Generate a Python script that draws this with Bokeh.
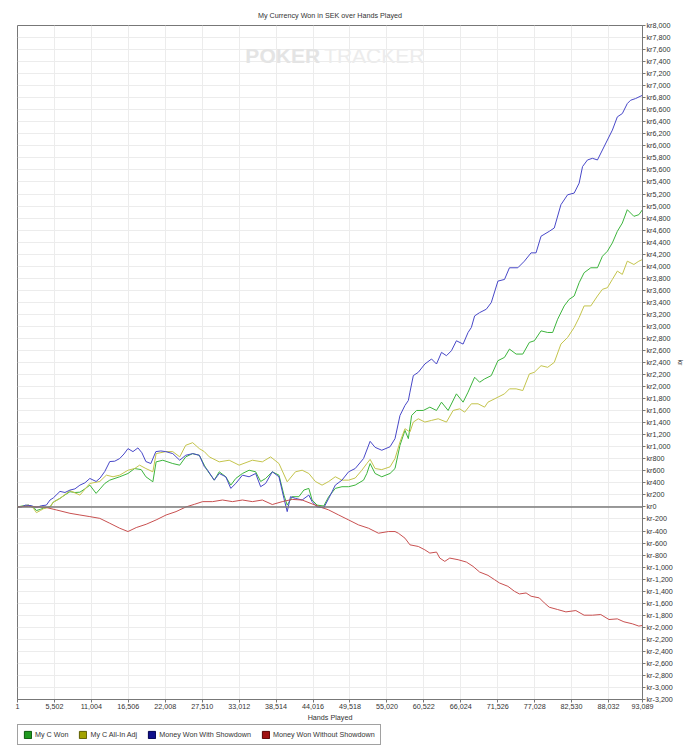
import math
from bokeh.plotting import figure
from bokeh.layouts import column
from bokeh.models import FixedTicker, Span, Label, Legend, LegendItem, Range1d
from bokeh.embed import file_html
from bokeh.resources import INLINE

# ---------------- data ----------------
series_names = ["My C Won", "My C All-In Adj", "Money Won With Showdown", "Money Won Without Showdown"]

hands_won = [1, 889, 1631, 2372, 2817, 3410, 3854, 4847, 5337, 6330, 7071, 7812, 8553, 9295, 10036, 10777,
             11711, 12304, 13001, 13742, 15224, 16455, 17448, 18426, 19123, 20161, 20650, 21643, 23125, 24163,
             25053, 26090, 27083, 27825, 28314, 29307, 30048, 31027, 31768, 32509, 33502, 34495, 35474, 36215,
             36956, 37949, 38943, 39684, 40173, 40914, 41908, 42649, 43390, 43879, 44620, 45613, 46355, 47333,
             48326, 49319, 50298, 51543, 52032, 52521, 53263, 54256, 55486, 56227, 56969, 57710, 58214, 58703,
             59444, 60437, 61416, 62409, 63150, 64143, 65374, 66367, 67108, 68087, 68828, 69569, 70562, 71556,
             72534, 73275, 74268, 75261, 76240, 76981, 77974, 78967, 79709, 80450, 81428, 82169, 82911, 83652,
             84393, 85386, 86379, 87121, 87862, 88603, 89344, 90085, 90826, 91805, 92546, 93089]
values_won = [0, 20, 30, 0, -60, -40, -20, 0, 80, 142, 200, 253, 240, 245, 300, 362,
              225, 300, 390, 445, 501, 556, 638, 620, 501, 418, 749, 776, 721, 694,
              832, 886, 858, 694, 600, 445, 584, 501, 362, 473, 556, 610, 584, 423,
              473, 584, 528, 197, 30, 170, 170, 280, 308, 115, 30, 15, 170, 308,
              336, 336, 363, 445, 556, 721, 556, 501, 556, 638, 1024, 1272, 1135, 1520,
              1603, 1603, 1658, 1603, 1741, 1603, 1879, 1741, 1907, 2155, 2072, 2127, 2182, 2430,
              2485, 2623, 2540, 2540, 2734, 2761, 2926, 2899, 2899, 3119, 3340, 3450, 3505, 3726,
              3892, 3974, 3974, 4166, 4249, 4388, 4580, 4718, 4939, 4829, 4856, 4940]

hands_adj = [1, 889, 1631, 2372, 2817, 3410, 3854, 4847, 5337, 6330, 7812, 9295, 10777, 12259, 13238, 14231,
             15224, 16455, 17448, 18189, 19123, 20161, 20650, 22088, 23125, 24163, 25053, 26090, 27083, 27825,
             28566, 30048, 31531, 33013, 34985, 36467, 37697, 38943, 40173, 41403, 42397, 43390, 44368, 45361,
             46355, 47333, 48326, 49319, 50298, 51291, 52032, 52521, 53263, 54256, 55486, 56227, 56969, 57710,
             58451, 58955, 59696, 60675, 61668, 62661, 63891, 64885, 65863, 66604, 67597, 68591, 69569, 70073,
             71556, 72534, 73275, 74268, 75261, 76240, 76981, 77974, 78967, 79946, 80939, 81932, 82911, 83652,
             84393, 85386, 86379, 87121, 87862, 88603, 89344, 90085, 90826, 91805, 92546, 93089]
values_adj = [0, 10, 30, -20, -95, -60, -30, 0, 80, 142, 270, 197, 390, 423, 528, 501,
              528, 610, 638, 694, 638, 584, 886, 919, 919, 832, 1024, 1068, 969, 919,
              832, 749, 776, 694, 776, 749, 832, 721, 418, 584, 610, 556, 423, 362,
              423, 501, 445, 445, 480, 610, 721, 790, 638, 620, 666, 804, 1079, 1300,
              1245, 1410, 1465, 1410, 1438, 1465, 1410, 1603, 1630, 1575, 1714, 1714, 1658, 1741,
              1824, 1879, 1962, 1962, 1934, 2210, 2237, 2347, 2320, 2402, 2706, 2816, 2982, 3147,
              3340, 3340, 3505, 3616, 3643, 3781, 3919, 3864, 4084, 4029, 4084, 4111]

hands_sd = [1, 593, 1186, 2075, 2817, 3558, 4299, 4847, 5337, 6330, 7071, 7812, 8553, 9295, 10036, 10777,
            11711, 12304, 13001, 13742, 14483, 15224, 15862, 16455, 17196, 17937, 18530, 19123, 19864, 20605,
            21347, 22088, 23125, 24163, 25053, 26090, 27083, 27825, 28314, 29307, 30048, 31027, 31768, 32509,
            33502, 34495, 35474, 36215, 36956, 37949, 38943, 39684, 40173, 40662, 41403, 42397, 43390, 43879,
            44620, 45613, 46355, 46844, 47333, 48326, 49319, 50298, 51543, 52521, 53263, 54256, 55486, 56227,
            56969, 57710, 58214, 58451, 58955, 59696, 60675, 61668, 62409, 63150, 63891, 64633, 65374, 66367,
            67108, 67597, 68087, 68828, 69821, 70562, 71556, 72534, 73275, 74520, 75499, 76492, 77233, 77974,
            79205, 79946, 80939, 81932, 82911, 83652, 84156, 84897, 85638, 86379, 87121, 87862, 88603, 89344,
            90085, 90826, 91316, 92057, 93089]
values_sd = [0, 0, 30, 20, -10, 20, 30, 115, 150, 258, 240, 280, 300, 362, 400, 473,
             423, 480, 589, 754, 760, 804, 880, 969, 919, 981, 900, 754, 721, 919,
             930, 919, 886, 776, 858, 886, 858, 671, 610, 445, 556, 500, 308, 390,
             528, 501, 556, 336, 390, 584, 501, 142, -78, 170, 142, 115, 197, 88,
             0, -15, 142, 250, 362, 445, 584, 638, 804, 1090, 990, 942, 1000, 1135,
             1520, 1686, 1769, 1907, 2182, 2237, 2375, 2458, 2375, 2568, 2513, 2596, 2761, 2706,
             2899, 2982, 3174, 3229, 3285, 3395, 3753, 3780, 3974, 3974, 4084, 4222, 4222, 4498,
             4580, 4635, 5022, 5187, 5215, 5380, 5655, 5766, 5793, 5766, 5931, 6097, 6262, 6482,
             6537, 6703, 6758, 6786, 6841]

hands_nsd = [1, 1631, 3113, 4299, 5826, 7812, 9295, 10777, 12259, 13742, 15224, 16455, 17685, 19167, 20650,
             22132, 23615, 25097, 26342, 27573, 29055, 30537, 32020, 33502, 34985, 36467, 37949, 39432, 40914,
             42397, 43879, 45109, 46355, 47837, 49319, 50802, 52284, 53767, 55249, 56227, 56731, 57710, 58451,
             59696, 60675, 61416, 62409, 62898, 63639, 64381, 65626, 66856, 67849, 68828, 70073, 71051, 71793,
             73038, 74016, 74757, 75751, 76492, 77722, 78463, 79205, 80450, 81680, 83163, 84393, 85638, 86869,
             88099, 89344, 90322, 91568, 92546, 93089]
values_nsd = [0, 10, 0, -10, -51, -106, -134, -161, -190, -271, -354, -409, -343, -288, -216,
              -134, -78, 0, 43, 88, 88, 115, 88, 115, 88, 115, 40, 88, 125,
              115, 50, 0, -50, -134, -216, -299, -354, -437, -409, -409, -437, -519, -630,
              -657, -713, -767, -750, -850, -905, -850, -877, -916, -988, -1082, -1137, -1209, -1264,
              -1319, -1402, -1446, -1430, -1484, -1512, -1595, -1667, -1705, -1744, -1722, -1799, -1799, -1788,
              -1871, -1860, -1909, -1942, -1980, -1970]

x_ticks = [1, 5502, 11004, 16506, 22008, 27510, 33012, 38514, 44016, 49518, 55020, 60522, 66024,
           71526, 77028, 82530, 88032, 93089]
x_tick_labels = ["1", "5,502", "11,004", "16,506", "22,008", "27,510", "33,012", "38,514", "44,016",
                 "49,518", "55,020", "60,522", "66,024", "71,526", "77,028", "82,530", "88,032", "93,089"]
y_ticks = list(range(-3200, 8001, 200))
y_tick_labels = ["kr" + format(v, ",") for v in y_ticks]

# ---------------- styling ----------------
FONT = "Liberation Sans"
FS = "7.2px"
line_colors = ["#3cb43c", "#c4c44c", "#4848c8", "#c85050"]
legend_colors = ["#1f9a1f", "#a3a300", "#10108c", "#a01010"]
legend_borders = ["#0b5a0b", "#5f5f00", "#000050", "#5a0000"]

p = figure(width=687, height=724, output_backend="svg", toolbar_location=None,
           x_range=Range1d(1, 93089), y_range=Range1d(-3200, 8000),
           y_axis_location="right", min_border_left=14, min_border_top=25,
           min_border_right=45, min_border_bottom=22,
           title="My Currency Won in SEK over Hands Played")
p.title.text_font = FONT
p.title.text_font_size = FS
p.title.text_font_style = "normal"
p.title.text_color = "#333333"
p.title.align = "center"
p.title.standoff = 12
p.outline_line_color = "#777777"
p.background_fill_color = "white"
p.border_fill_color = "white"

# axes
xa = p.xaxis[0]
xa.ticker = FixedTicker(ticks=x_ticks)
xa.major_label_overrides = dict(zip(x_ticks, x_tick_labels))
xa.axis_label = "Hands Played"
ya = p.yaxis[0]
ya.ticker = FixedTicker(ticks=y_ticks)
ya.major_label_overrides = dict(zip(y_ticks, y_tick_labels))
ya.axis_label = "kr"
for ax in (xa, ya):
    ax.axis_line_color = "#777777"
    ax.major_tick_line_color = "#777777"
    ax.minor_tick_line_color = None
    ax.major_tick_in = 0
    ax.major_tick_out = 3
    ax.major_label_standoff = 1
    ax.major_label_text_font = FONT
    ax.major_label_text_font_size = FS
    ax.major_label_text_color = "#333333"
    ax.axis_label_text_font = FONT
    ax.axis_label_text_font_size = FS
    ax.axis_label_text_font_style = "normal"
    ax.axis_label_text_color = "#333333"
xa.axis_label_standoff = 1
ya.axis_label_standoff = 0

p.xgrid.ticker = FixedTicker(ticks=x_ticks)
p.ygrid.ticker = FixedTicker(ticks=y_ticks)
p.grid.grid_line_color = "#ececec"
p.grid.grid_line_width = 1

# watermark
p.add_layout(Label(x=45361, y=7500, text="POKER", text_align="right", text_baseline="middle",
                   text_font=FONT, text_font_size="21px", text_font_style="bold", text_color="#e4e4e4",
                   x_offset=-2))
p.add_layout(Label(x=45361, y=7500, text="TRACKER", text_align="left", text_baseline="middle",
                   text_font=FONT, text_font_size="21px", text_font_style="normal", text_color="#ececec",
                   x_offset=2))

# zero line
p.add_layout(Span(location=0, dimension="width", line_color="#7a7a7a", line_width=1.5))

series = [(hands_won, values_won), (hands_adj, values_adj), (hands_sd, values_sd), (hands_nsd, values_nsd)]
for (hx, hy), c in zip(series, line_colors):
    p.line(hx, hy, line_color=c, line_width=1)

# legend strip (separate small figure below the chart)
lf = figure(width=687, height=26, output_backend="svg", toolbar_location=None,
            x_range=Range1d(0, 1), y_range=Range1d(0, 1),
            min_border_left=17, min_border_right=0, min_border_top=0, min_border_bottom=0)
lf.axis.visible = False
lf.grid.visible = False
lf.outline_line_color = None
lf.border_fill_color = "white"

items = []
nan = float("nan")
for name, fc, lc in zip(series_names, legend_colors, legend_borders):
    r = lf.quad(left=[nan], right=[nan], bottom=[nan], top=[nan], fill_color=fc, line_color=lc)
    items.append(LegendItem(label=name, renderers=[r]))

legend = Legend(items=items, orientation="horizontal", location="top_left",
                label_text_font=FONT, label_text_font_size=FS, label_text_color="#333333",
                glyph_width=9, glyph_height=9, label_standoff=3, spacing=10, padding=5,
                margin=0, label_height=9, border_line_color="#444444", border_line_width=1,
                background_fill_color="white")
lf.add_layout(legend, "center")

open("out.html", "w").write(file_html(column(p, lf, spacing=0), INLINE))
